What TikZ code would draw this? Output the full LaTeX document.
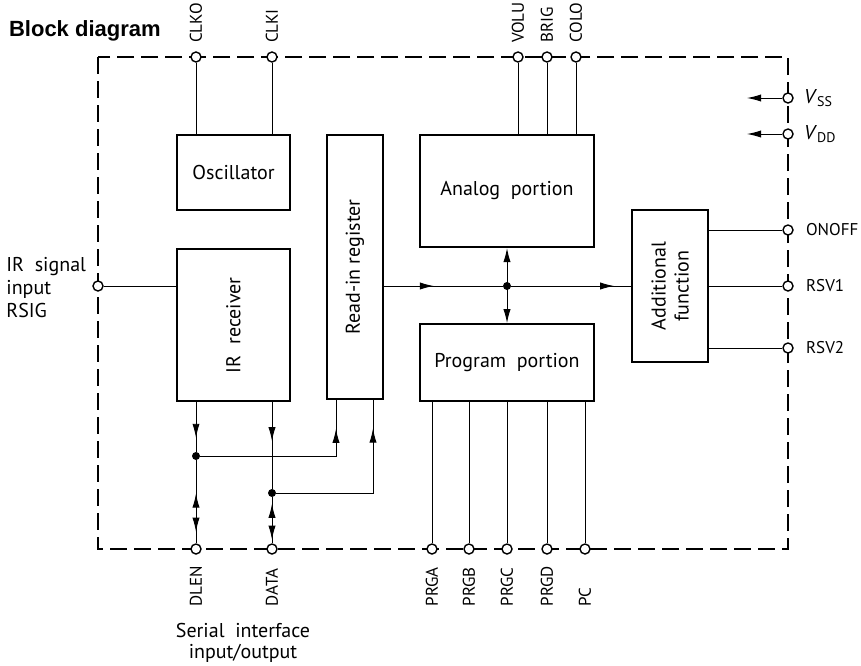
\documentclass[tikz,border=0pt]{standalone}
\usepackage{fontspec}
\setmainfont{PT Sans}
\newfontfamily\titlefont{Liberation Sans}
\usetikzlibrary{arrows.meta, positioning, decorations.markings}

\begin{document}
\begin{tikzpicture}[x=0.5pt, y=-0.5pt, >={Latex[length=7pt, width=3.6pt]},
      wire/.style={line width=0.45pt},
      box/.style={draw, line width=1.1pt, inner sep=0pt},
      io/.style={draw, circle, fill=white, line width=0.7pt, minimum size=5pt, inner sep=0pt},
      dot/.style={circle, fill, minimum size=4pt, inner sep=0pt},
      lbl/.style={font=\fontsize{8.5}{11.5}\selectfont, inner sep=1pt},
      blbl/.style={font=\fontsize{10}{11.5}\selectfont, inner sep=1pt},
      tipat/.style={postaction={decorate, decoration={markings,
                    mark=at position #1 with {\arrow{>}}}}},
      tipback/.style={postaction={decorate, decoration={markings,
                    mark=at position #1 with {\arrowreversed{>}}}}}]
    \useasboundingbox (0,0) rectangle (861,665);
    \node[anchor=west, font=\titlefont\fontsize{11}{13}\selectfont\bfseries] (title) at (2,31) {Block diagram};
    % chip outline
    \draw[line width=0.8pt, dash pattern=on 8.5pt off 3.5pt] (98,57) rectangle (788,549);
    % terminals
    \node[io] (clko)  at (196,57) {};
    \node[io] (clki)  at (272,57) {};
    \node[io] (volu)  at (518,57) {};
    \node[io] (brig)  at (547,57) {};
    \node[io] (colo)  at (576,57) {};
    \node[io] (vss)   at (788,98) {};
    \node[io] (vdd)   at (788,134) {};
    \node[io] (onoff) at (788,230) {};
    \node[io] (rsv1)  at (788,286) {};
    \node[io] (rsv2)  at (788,348) {};
    \node[io] (rsig)  at (98,286) {};
    \node[io] (dlen)  at (196,549) {};
    \node[io] (data)  at (272,549) {};
    \node[io] (prga)  at (432,549) {};
    \node[io] (prgb)  at (469,549) {};
    \node[io] (prgc)  at (507,549) {};
    \node[io] (prgd)  at (547,549) {};
    \node[io] (pc)    at (585,549) {};
    % blocks
    \node[box, minimum width=56.5pt, minimum height=37.5pt, blbl] (osc) at (233.5,172.5) {Oscillator};
    \node[box, minimum width=56.5pt, minimum height=76pt, below=18.5pt of osc] (irx) {};
    \node[blbl, rotate=90] (irxtext) at (irx) {IR\ \ receiver};
    \node[box, minimum width=28pt, minimum height=132pt] (reg) at (355,267) {};
    \node[blbl, rotate=90] (regtext) at (reg) {Read-in\ register};
    \node[box, minimum width=87pt, minimum height=56pt, blbl] (ana) at (507,191) {Analog\ \ portion};
    \node[box, minimum width=87pt, minimum height=38.5pt, below=37.5pt of ana, blbl] (prg) {Program\ \ portion};
    \node[box, minimum width=38pt, minimum height=76pt] (add) at (670,286) {};
    \node[blbl, rotate=90, align=center] (addtext) at (add) {Additional\\function};
    % pin labels
    \node[lbl, rotate=90, anchor=west] (clkolbl) at ([yshift=3pt]clko.north) {CLKO};
    \node[lbl, rotate=90, anchor=west] (clkilbl) at ([yshift=3pt]clki.north) {CLKI};
    \node[lbl, rotate=90, anchor=west] (volulbl) at ([yshift=3pt]volu.north) {VOLU};
    \node[lbl, rotate=90, anchor=west] (briglbl) at ([yshift=3pt]brig.north) {BRIG};
    \node[lbl, rotate=90, anchor=west] (cololbl) at ([yshift=3pt]colo.north) {COLO};
    \node[blbl, anchor=west] (vsslbl)   at ([xshift=4pt]vss.east) {\textit{V}\textsubscript{SS}};
    \node[blbl, anchor=west] (vddlbl)   at ([xshift=4pt]vdd.east) {\textit{V}\textsubscript{DD}};
    \node[lbl, anchor=west] (onofflbl) at ([xshift=5pt]onoff.east) {ONOFF};
    \node[lbl, anchor=west] (rsv1lbl)  at ([xshift=5pt]rsv1.east) {RSV1};
    \node[lbl, anchor=west] (rsv2lbl)  at ([xshift=5pt]rsv2.east) {RSV2};
    \node[blbl, anchor=west, align=left] (rsiglbl) at (4,288) {IR\ \ signal\\input\\RSIG};
    \node[lbl, rotate=90, anchor=west] (dlenlbl) at ([yshift=-27pt]dlen.south) {DLEN};
    \node[lbl, rotate=90, anchor=west] (datalbl) at ([yshift=-27pt]data.south) {DATA};
    \node[lbl, rotate=90, anchor=west] (prgalbl) at ([yshift=-27pt]prga.south) {PRGA};
    \node[lbl, rotate=90, anchor=west] (prgblbl) at ([yshift=-27pt]prgb.south) {PRGB};
    \node[lbl, rotate=90, anchor=west] (prgclbl) at ([yshift=-27pt]prgc.south) {PRGC};
    \node[lbl, rotate=90, anchor=west] (prgdlbl) at ([yshift=-27pt]prgd.south) {PRGD};
    \node[lbl, rotate=90, anchor=west] (pclbl)   at ([yshift=-27pt]pc.south) {PC};
    \node[blbl, align=center, font=\fontsize{10}{10.5}\selectfont] (serlbl) at (243,643) {Serial\ \ interface\\input/output};
    % junctions
    \node[dot] (hub)     at (ana.south |- rsig) {};
    \node[dot] (dlendot) at (196,456) {};
    \node[dot] (datadot) at (272,493) {};
    % wires
    \draw[wire] (clko) -- (clko |- osc.north);
    \draw[wire] (clki) -- (clki |- osc.north);
    \draw[wire] (volu) -- (volu |- ana.north);
    \draw[wire] (brig) -- (brig |- ana.north);
    \draw[wire] (colo) -- (colo |- ana.north);
    \draw[wire] (rsig) -- (rsig -| irx.west);
    \draw[wire, tipat=0.42] (rsig -| reg.east) -- (hub);
    \draw[wire, tipat=0.86] (hub) -- (add.west);
    \draw[wire, <->] (ana.south) -- (prg.north);
    \draw[wire] (add.east |- onoff) -- (onoff);
    \draw[wire] (add.east |- rsv1) -- (rsv1);
    \draw[wire] (add.east |- rsv2) -- (rsv2);
    \coordinate (vssend) at (747,98);
    \coordinate (vddend) at (747,134);
    \draw[wire, ->] (vss) -- (vssend);
    \draw[wire, ->] (vdd) -- (vddend);
    \draw[wire, tipat=0.72] (irx.south -| dlen) -- (dlendot);
    \draw[wire, tipback=0.4, tipat=0.86] (dlendot) -- (dlen);
    \draw[wire, tipat=0.45] (irx.south -| data) -- (datadot);
    \draw[wire, tipback=0.14, tipat=0.92] (datadot) -- (data);
    \draw[wire, tipat=0.85] (dlendot) -| ([xshift=-9.5pt]reg.south);
    \draw[wire, tipat=0.85] (datadot) -| ([xshift=9pt]reg.south);
    \draw[wire] (prga) -- (prga |- prg.south);
    \draw[wire] (prgb) -- (prgb |- prg.south);
    \draw[wire] (prgc) -- (prgc |- prg.south);
    \draw[wire] (prgd) -- (prgd |- prg.south);
    \draw[wire] (pc) -- (pc |- prg.south);
\end{tikzpicture}
\end{document}
